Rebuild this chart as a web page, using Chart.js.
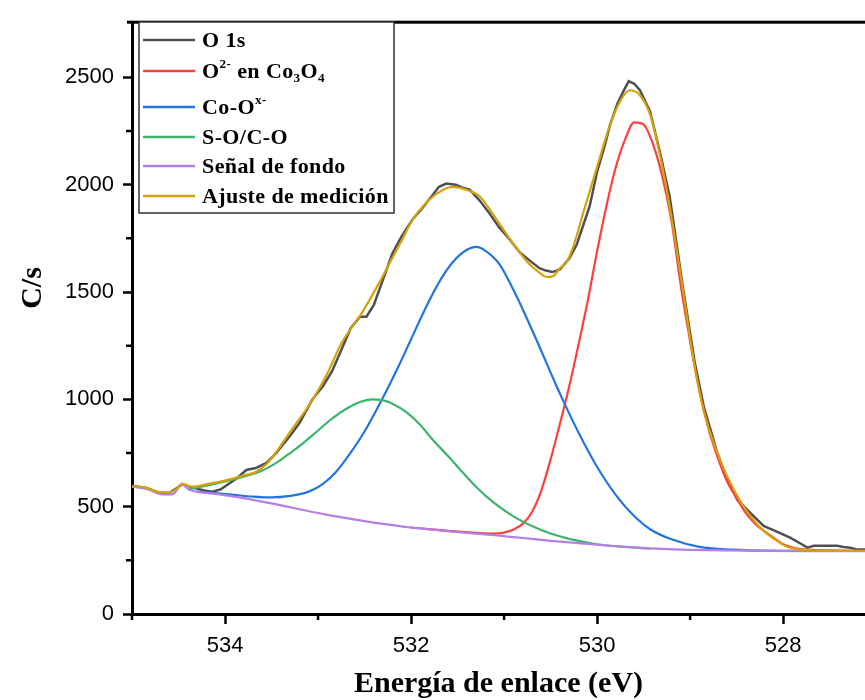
<!DOCTYPE html>
<html>
<head>
<meta charset="utf-8">
<title>XPS O 1s</title>
<script src="https://cdn.jsdelivr.net/npm/chart.js@4.4.1/dist/chart.umd.min.js"></script>
<style>
  html, body { margin: 0; padding: 0; background: #fff; }
  canvas { display: block; }
</style>
</head>
<body>
<canvas id="o1sChart" width="865" height="700"></canvas>
<script>
// O 1s spectrum (measured counts)
const o1sEV = [535.0, 534.85, 534.72, 534.6, 534.5, 534.46, 534.36, 534.22, 534.14, 534.05, 533.97, 533.88, 533.77, 533.67, 533.55, 533.45, 533.3, 533.2, 533.06, 532.95, 532.85, 532.75, 532.65, 532.55, 532.48, 532.4, 532.3, 532.2, 532.1, 531.98, 531.88, 531.78, 531.7, 531.62, 531.52, 531.44, 531.37, 531.26, 531.16, 531.05, 530.93, 530.83, 530.72, 530.62, 530.55, 530.48, 530.4, 530.3, 530.22, 530.15, 530.08, 530.0, 529.92, 529.86, 529.78, 529.7, 529.66, 529.6, 529.54, 529.43, 529.32, 529.22, 529.08, 528.95, 528.85, 528.71, 528.6, 528.49, 528.35, 528.21, 528.05, 527.92, 527.8, 527.74, 527.67, 527.5, 527.42, 527.35, 527.28, 527.2, 527.11];
const o1sCps = [596, 588, 566, 564, 592, 605, 590, 575, 570, 580, 603, 630, 671, 680, 705, 750, 830, 890, 1000, 1060, 1130, 1230, 1330, 1385, 1385, 1440, 1560, 1680, 1760, 1840, 1890, 1945, 1990, 2005, 2000, 1985, 1977, 1925, 1868, 1800, 1740, 1684, 1645, 1611, 1600, 1593, 1605, 1656, 1720, 1810, 1900, 2060, 2180, 2280, 2380, 2450, 2482, 2470, 2440, 2340, 2143, 1945, 1530, 1170, 960, 754, 625, 530, 470, 410, 380, 355, 325, 309, 318, 318, 318, 312, 309, 300, 300];

// O2- in Co3O4 component (with background)
const oxideEV = [532.0, 531.6, 531.3, 531.1, 530.95, 530.8, 530.7, 530.6, 530.5, 530.4, 530.3, 530.2, 530.1, 530.0, 529.9, 529.8, 529.7, 529.6, 529.5, 529.4, 529.3, 529.2, 529.1, 529.0, 528.9, 528.8, 528.7, 528.6, 528.5, 528.4, 528.3, 528.2, 528.1, 528.0, 527.9, 527.8, 527.5, 527.1];
const oxideCps = [403, 387, 378, 374, 385, 420, 475, 575, 720, 885, 1060, 1255, 1460, 1690, 1900, 2080, 2210, 2290, 2280, 2190, 2040, 1830, 1530, 1270, 1040, 860, 725, 615, 540, 470, 420, 385, 355, 325, 310, 302, 296, 294];

// Co-O(x-) component
const coOEV = [534.3, 534.1, 533.9, 533.7, 533.5, 533.3, 533.1, 532.95, 532.8, 532.66, 532.5, 532.3, 532.15, 532.0, 531.85, 531.7, 531.55, 531.4, 531.3, 531.2, 531.05, 530.9, 530.8, 530.65, 530.54, 530.45, 530.35, 530.2, 530.02, 529.8, 529.6, 529.43, 529.2, 528.9, 528.54, 528.2, 527.8];
const coOCps = [570, 563, 555, 547, 543, 550, 570, 605, 665, 745, 850, 1010, 1140, 1280, 1420, 1545, 1640, 1697, 1710, 1692, 1630, 1510, 1420, 1275, 1165, 1075, 980, 845, 700, 555, 455, 395, 348, 313, 300, 295, 294];

// S-O / C-O component
const soEV = [534.4, 534.2, 534.0, 533.8, 533.6, 533.42, 533.3, 533.15, 533.0, 532.85, 532.7, 532.55, 532.42, 532.3, 532.2, 532.05, 531.9, 531.77, 531.6, 531.48, 531.3, 531.1, 530.9, 530.7, 530.5, 530.3, 530.0, 529.7, 529.43];
const soCps = [580, 598, 618, 640, 668, 712, 750, 800, 855, 910, 955, 988, 1000, 995, 980, 940, 880, 813, 735, 676, 592, 515, 455, 410, 375, 350, 325, 312, 304];

// background
const fondoEV = [535.0, 534.82, 534.68, 534.57, 534.46, 534.39, 534.31, 534.1, 533.8, 533.5, 533.2, 532.9, 532.6, 532.3, 532.0, 531.7, 531.4, 531.1, 530.8, 530.5, 530.2, 529.9, 529.6, 529.3, 529.0, 528.6, 528.2, 527.7, 527.1];
const fondoCps = [593, 580, 557, 557, 603, 580, 570, 560, 540, 515, 488, 462, 440, 420, 403, 390, 378, 367, 354, 341, 330, 319, 310, 303, 299, 296, 294, 293, 293];

// envelope of the fit
const fitEV = [535.0, 534.85, 534.72, 534.6, 534.5, 534.46, 534.36, 534.17, 533.96, 533.8, 533.67, 533.55, 533.45, 533.3, 533.06, 532.9, 532.75, 532.52, 532.34, 532.23, 532.1, 531.98, 531.8, 531.65, 531.55, 531.4, 531.26, 531.1, 530.91, 530.75, 530.62, 530.54, 530.47, 530.4, 530.33, 530.25, 530.15, 530.0, 529.86, 529.75, 529.65, 529.54, 529.43, 529.32, 529.22, 529.08, 528.95, 528.85, 528.71, 528.6, 528.46, 528.35, 528.21, 528.08, 527.95, 527.8, 527.5, 527.1];
const fitCps = [596, 588, 568, 566, 590, 607, 593, 607, 626, 645, 662, 700, 754, 848, 997, 1120, 1260, 1409, 1545, 1635, 1740, 1839, 1931, 1978, 1990, 1975, 1945, 1850, 1730, 1640, 1590, 1570, 1575, 1611, 1638, 1720, 1868, 2083, 2280, 2390, 2440, 2417, 2326, 2129, 1899, 1519, 1150, 940, 754, 640, 525, 455, 387, 345, 312, 300, 295, 294];

const seriesLabels = ['O 1s', 'O^{2-} en Co_{3}O_{4}', 'Co-O^{x-}', 'S-O/C-O', 'Señal de fondo', 'Ajuste de medición'];
const seriesColors = ['#505050', '#ff3f3f', '#2474e0', '#3cb46e', '#b67fe6', '#d6a20c'];

const xMajorTicks = [534, 532, 530, 528];
const xMinorTicks = [535, 533, 531, 529];
const yMajorTicks = [0, 500, 1000, 1500, 2000, 2500];
const yMinorTicks = [250, 750, 1250, 1750, 2250];

const toPoints = (ev, cps) => ev.map((x, i) => ({ x: x, y: cps[i] }));
const seriesData = [
  toPoints(o1sEV, o1sCps),
  toPoints(oxideEV, oxideCps),
  toPoints(coOEV, coOCps),
  toPoints(soEV, soCps),
  toPoints(fondoEV, fondoCps),
  toPoints(fitEV, fitCps)
];
// fit on top, raw spectrum at the bottom
const drawOrder = [5, 4, 3, 2, 1, 0];

const serif = '"Liberation Serif", "Times New Roman", serif';
const sans = '"Liberation Sans", Arial, sans-serif';

// writes "a^{sup}" / "a_{sub}" labels piece by piece
function drawRichText(ctx, text, x, y, size) {
  const parts = text.split(/(\^\{[^}]*\}|_\{[^}]*\})/).filter(Boolean);
  parts.forEach(p => {
    let t = p, s = size, dy = 0;
    if (p[0] === '^') { t = p.slice(2, -1); s = size * 0.6; dy = -size * 0.32; }
    else if (p[0] === '_') { t = p.slice(2, -1); s = size * 0.6; dy = size * 0.3; }
    ctx.font = 'bold ' + s + 'px ' + serif;
    ctx.fillText(t, x, y + dy);
    x += ctx.measureText(t).width;
  });
}

const framePlugin = {
  id: 'frame',
  afterDraw(chart) {
    const ctx = chart.ctx;
    const area = chart.chartArea;
    const xs = chart.scales.x, ys = chart.scales.y;
    ctx.save();
    ctx.fillStyle = '#000';
    // top edge of the frame
    ctx.fillRect(area.left - 5, area.top - 1.5, area.right - area.left + 5, 3);

    // minor ticks
    ctx.strokeStyle = '#000';
    ctx.lineWidth = 2.5;
    ctx.beginPath();
    xMinorTicks.forEach(v => {
      const px = xs.getPixelForValue(v);
      ctx.moveTo(px, area.bottom);
      ctx.lineTo(px, area.bottom + 6);
    });
    yMinorTicks.forEach(v => {
      const py = ys.getPixelForValue(v);
      ctx.moveTo(area.left, py);
      ctx.lineTo(area.left - 6, py);
    });
    ctx.stroke();

    // axis titles
    ctx.fillStyle = '#000';
    ctx.textAlign = 'center';
    ctx.textBaseline = 'middle';
    ctx.font = 'bold 30px ' + serif;
    ctx.fillText('Energía de enlace (eV)', (area.left + area.right) / 2, 684);
    ctx.save();
    ctx.translate(33, 288);
    ctx.rotate(-Math.PI / 2);
    ctx.fillText('C/s', 0, 0);
    ctx.restore();

    // legend box
    const box = { left: 139, top: 22, right: 394, bottom: 213 };
    const rowY = [40, 71, 107, 137, 166, 196];
    ctx.fillStyle = '#fff';
    ctx.fillRect(box.left, box.top, box.right - box.left, box.bottom - box.top);
    ctx.strokeStyle = '#333';
    ctx.lineWidth = 1.5;
    ctx.strokeRect(box.left, box.top, box.right - box.left, box.bottom - box.top);
    ctx.textAlign = 'left';
    ctx.letterSpacing = '0.4px';
    seriesLabels.forEach((label, i) => {
      ctx.strokeStyle = seriesColors[i];
      ctx.lineWidth = 2.5;
      ctx.beginPath();
      ctx.moveTo(143, rowY[i]);
      ctx.lineTo(195, rowY[i]);
      ctx.stroke();
      ctx.fillStyle = '#000';
      drawRichText(ctx, label, 202, rowY[i] + 1, 22);
    });
    ctx.restore();
  }
};

const ctx = document.getElementById('o1sChart').getContext('2d');
const o1sChart = new Chart(ctx, {
  type: 'line',
  data: {
    datasets: seriesLabels.map((label, i) => ({
      label: label,
      data: seriesData[i],
      borderColor: seriesColors[i],
      borderWidth: i === 0 ? 2.5 : 2.2,
      pointRadius: 0,
      fill: false,
      cubicInterpolationMode: i === 0 ? 'default' : 'monotone',
      tension: i === 0 ? 0 : 0.4,
      order: drawOrder[i]
    }))
  },
  options: {
    responsive: false,
    animation: false,
    layout: { padding: { top: 13, right: 0, left: 0, bottom: 0 } },
    plugins: {
      legend: { display: false },
      tooltip: { enabled: false }
    },
    scales: {
      x: {
        type: 'linear',
        reverse: true,
        min: 527.12,
        max: 535,
        afterBuildTicks(scale) { scale.ticks = xMajorTicks.map(v => ({ value: v })); },
        ticks: {
          color: '#000',
          padding: 9,
          maxRotation: 0,
          autoSkip: false,
          callback: v => String(v),
          font: { family: sans, size: 22 }
        },
        grid: { drawOnChartArea: false, tickLength: 10, tickWidth: 2.5, tickColor: '#000', color: '#000' },
        border: { display: true, color: '#000', width: 3 },
        afterFit(scale) { scale.height = 86; }
      },
      y: {
        min: 0,
        max: 2757,
        afterBuildTicks(scale) { scale.ticks = yMajorTicks.map(v => ({ value: v })); },
        ticks: {
          color: '#000',
          padding: 9,
          autoSkip: false,
          callback: v => String(v),
          font: { family: sans, size: 22 }
        },
        grid: { drawOnChartArea: false, tickLength: 9, tickWidth: 2.5, tickColor: '#000', color: '#000' },
        border: { display: true, color: '#000', width: 3 },
        afterFit(scale) { scale.width = 132; }
      }
    }
  },
  plugins: [framePlugin]
});
</script>
</body>
</html>
